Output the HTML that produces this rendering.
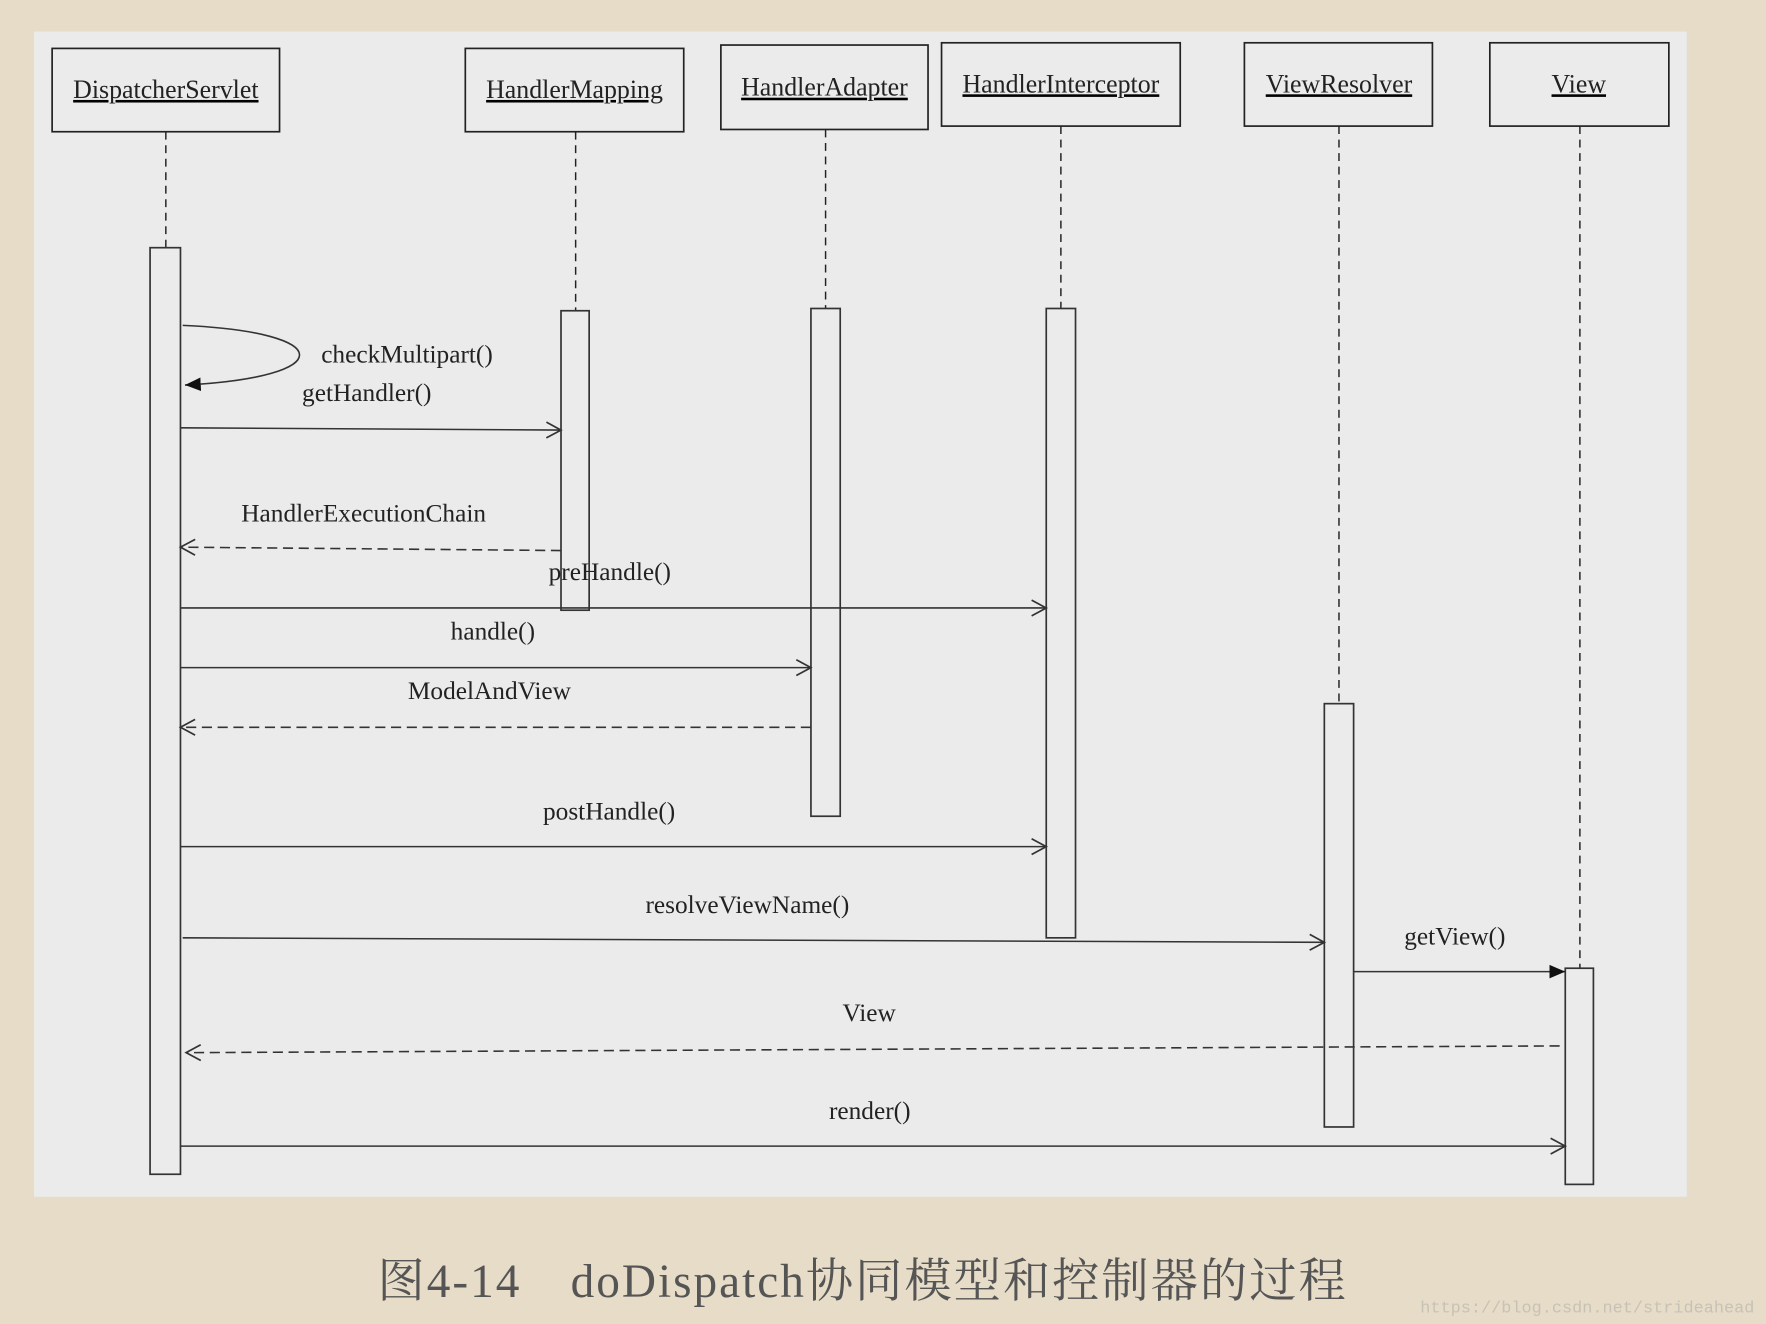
<!DOCTYPE html>
<html><head><meta charset="utf-8"><style>
html,body{margin:0;padding:0;background:#e6dcc8;}
svg{display:block;}
text{font-family:"Liberation Serif","Noto Serif CJK SC",serif;fill:#222;}
</style></head><body>
<svg width="1766" height="1324" viewBox="0 0 1568 1176" xmlns="http://www.w3.org/2000/svg">
<defs>
<marker id="open" markerWidth="16" markerHeight="16" refX="14" refY="8" orient="auto" markerUnits="userSpaceOnUse">
<path d="M1,1 L14,8 L1,15" fill="none" stroke="#333" stroke-width="1.5"/></marker>
<marker id="fill" markerWidth="16" markerHeight="14" refX="14" refY="7" orient="auto" markerUnits="userSpaceOnUse">
<path d="M0,1 L14,7 L0,13 Z" fill="#111"/></marker>
</defs>
<rect x="0" y="0" width="1568" height="1176" fill="#e6dcc8"/>
<rect x="30" y="28" width="1468" height="1035" fill="#ebebeb"/>
<g fill="#ebebeb" stroke="#222" stroke-width="1.5">
<rect x="46" y="43" width="202" height="74"/>
<rect x="413" y="43" width="194" height="74"/>
<rect x="640" y="40" width="184" height="75"/>
<rect x="836" y="38" width="212" height="74"/>
<rect x="1105" y="38" width="167" height="74"/>
<rect x="1323" y="38" width="159" height="74"/>
</g>
<g font-size="23" text-anchor="middle" text-decoration="underline">
<text x="147" y="87">DispatcherServlet</text>
<text x="510" y="87">HandlerMapping</text>
<text x="732" y="85">HandlerAdapter</text>
<text x="942" y="82">HandlerInterceptor</text>
<text x="1189" y="82">ViewResolver</text>
<text x="1402" y="82">View</text>
</g>
<g stroke="#222" stroke-width="1.3" stroke-dasharray="7,5" fill="none">
<line x1="147" y1="117" x2="147" y2="220"/>
<line x1="511" y1="117" x2="511" y2="276"/>
<line x1="733" y1="115" x2="733" y2="274"/>
<line x1="942" y1="112" x2="942" y2="274"/>
<line x1="1189" y1="112" x2="1189" y2="625"/>
<line x1="1403" y1="112" x2="1403" y2="860"/>
</g>
<g fill="#ebebeb" stroke="#333" stroke-width="1.5">
<rect x="133" y="220" width="27" height="823"/>
<rect x="498" y="276" width="25" height="266"/>
<rect x="720" y="274" width="26" height="451"/>
<rect x="929" y="274" width="26" height="559"/>
<rect x="1176" y="625" width="26" height="376"/>
<rect x="1390" y="860" width="25" height="192"/>
</g>
<g stroke="#333" stroke-width="1.4" fill="none">
<path d="M162,289 C300,295 300,335 164,342" marker-end="url(#fill)"/>
<line x1="160" y1="380" x2="498" y2="382" marker-end="url(#open)"/>
<line x1="498" y1="489" x2="160" y2="486" stroke-dasharray="9,5" marker-end="url(#open)"/>
<line x1="160" y1="540" x2="929" y2="540" marker-end="url(#open)"/>
<line x1="160" y1="593" x2="720" y2="593" marker-end="url(#open)"/>
<line x1="720" y1="646" x2="160" y2="646" stroke-dasharray="9,5" marker-end="url(#open)"/>
<line x1="160" y1="752" x2="929" y2="752" marker-end="url(#open)"/>
<line x1="162" y1="833" x2="1176" y2="837" marker-end="url(#open)"/>
<line x1="1202" y1="863" x2="1390" y2="863" marker-end="url(#fill)"/>
<line x1="1385" y1="929" x2="165" y2="935" stroke-dasharray="9,5" marker-end="url(#open)"/>
<line x1="160" y1="1018" x2="1390" y2="1018" marker-end="url(#open)"/>
</g>
<g font-size="22.5">
<text x="285" y="322">checkMultipart()</text>
<text x="268" y="356">getHandler()</text>
<text x="214" y="463">HandlerExecutionChain</text>
<text x="487" y="515">preHandle()</text>
<text x="400" y="568">handle()</text>
<text x="362" y="621">ModelAndView</text>
<text x="482" y="728">postHandle()</text>
<text x="573" y="811">resolveViewName()</text>
<text x="1247" y="839">getView()</text>
<text x="748" y="907">View</text>
<text x="736" y="994">render()</text>
</g>
<text x="335" y="1152" font-size="42" textLength="860" lengthAdjust="spacing" style="fill:#555">图4-14　doDispatch协同模型和控制器的过程</text>
<text x="1558" y="1166" font-size="15" text-anchor="end" style="fill:#c8c2b6;font-family:'Liberation Mono',monospace">https://blog.csdn.net/strideahead</text>
</svg>
</body></html>
